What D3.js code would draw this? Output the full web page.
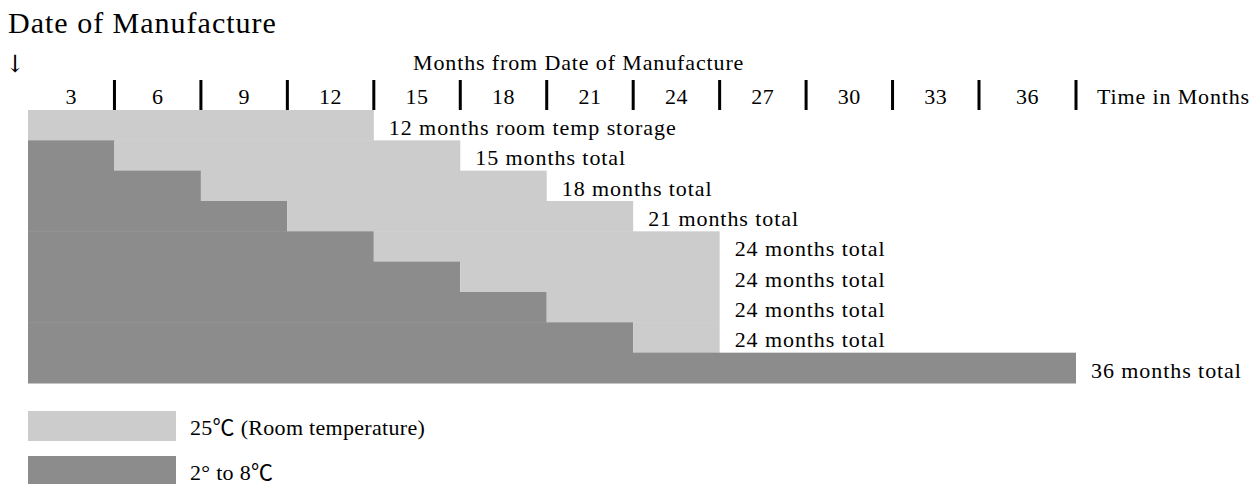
<!DOCTYPE html>
<html>
<head>
<meta charset="utf-8">
<script src="https://cdn.jsdelivr.net/npm/d3@7"></script>
<style>
  body { margin: 0; background: #fff; }
  text { font-family: "Liberation Serif", "Times New Roman", "Noto Sans CJK JP", serif; fill: #000; }
</style>
</head>
<body>
<div id="chart"></div>
<script>
// months stored at 2-8 C, then months at room temperature, per row
var coldMonths = [0, 3, 6, 9, 12, 15, 18, 21, 36];
var roomMonths = [12, 12, 12, 12, 12, 9, 6, 3, 0];
var rowLabels = [
    "12 months room temp storage",
    "15 months total",
    "18 months total",
    "21 months total",
    "24 months total",
    "24 months total",
    "24 months total",
    "24 months total",
    "36 months total"
];
var tickMonths = [3, 6, 9, 12, 15, 18, 21, 24, 27, 30, 33, 36];
var legendLabels = ["25\u2103 (Room temperature)", "2\u00b0 to 8\u2103"];

var cLight = "#cccccc", cDark = "#8c8c8c";
var vWidth = 1260, vHeight = 484;

var svg = d3.select("#chart")
    .append("svg")
    .attr("width", vWidth)
    .attr("height", vHeight);

// last column of the original table is a bit wider
var x = d3.scaleLinear()
    .domain([0, 33, 36])
    .range([28, 979, 1076]);

var y = d3.scaleBand()
    .domain(d3.range(rowLabels.length))
    .range([110, 383]);

svg.append("text")
    .attr("x", 8).attr("y", 33)
    .style("font-size", "30px")
    .style("letter-spacing", "1px")
    .text("Date of Manufacture");

svg.append("text")
    .attr("x", 5).attr("y", 72)
    .style("font-family", "'DejaVu Serif', serif")
    .style("font-size", "24px")
    .text("\u2193");

svg.append("text")
    .attr("x", 413).attr("y", 70)
    .style("font-size", "22px")
    .style("letter-spacing", "0.87px")
    .text("Months from Date of Manufacture");

// top axis: thick tick marks with labels centered in each column
var axis = svg.append("g");
axis.selectAll("rect.tick")
    .data(tickMonths)
    .enter()
    .append("rect")
    .attr("class", "tick")
    .attr("x", function (d) { return x(d) - 1.5; })
    .attr("y", 80)
    .attr("width", 3)
    .attr("height", 30)
    .attr("fill", "#000");

axis.selectAll("text.lbl")
    .data(tickMonths)
    .enter()
    .append("text")
    .attr("class", "lbl")
    .attr("x", function (d) { return (x(d - 3) + x(d)) / 2; })
    .attr("y", 104)
    .attr("text-anchor", "middle")
    .style("font-size", "22px")
    .style("letter-spacing", "0.5px")
    .text(function (d) { return d; });

svg.append("text")
    .attr("x", x(36) + 21).attr("y", 104)
    .style("font-size", "22px")
    .style("letter-spacing", "0.86px")
    .text("Time in Months");

// bars
var rows = svg.selectAll("g.row")
    .data(rowLabels)
    .enter()
    .append("g")
    .attr("class", "row");

rows.append("rect")
    .attr("x", x(0))
    .attr("y", function (d, i) { return y(i); })
    .attr("width", function (d, i) { return x(coldMonths[i]) - x(0); })
    .attr("height", y.bandwidth() + 0.5)
    .attr("fill", cDark);

rows.append("rect")
    .attr("x", function (d, i) { return x(coldMonths[i]); })
    .attr("y", function (d, i) { return y(i); })
    .attr("width", function (d, i) { return x(coldMonths[i] + roomMonths[i]) - x(coldMonths[i]); })
    .attr("height", y.bandwidth() + 0.5)
    .attr("fill", cLight);

rows.append("text")
    .attr("x", function (d, i) { return x(coldMonths[i] + roomMonths[i]) + 15; })
    .attr("y", function (d, i) { return y(i) + 25; })
    .style("font-size", "22px")
    .style("letter-spacing", "0.93px")
    .text(function (d) { return d; });

// legend
var legend = svg.selectAll("g.legend")
    .data(legendLabels)
    .enter()
    .append("g")
    .attr("class", "legend")
    .attr("transform", function (d, i) { return "translate(28," + (411 + i * 45) + ")"; });

legend.append("rect")
    .attr("width", 148)
    .attr("height", 30)
    .attr("fill", function (d, i) { return i === 0 ? cLight : cDark; });

legend.append("text")
    .attr("x", 162)
    .attr("y", 24)
    .style("font-size", "22px")
    .style("letter-spacing", "0.3px")
    .text(function (d) { return d; });
</script>
</body>
</html>
